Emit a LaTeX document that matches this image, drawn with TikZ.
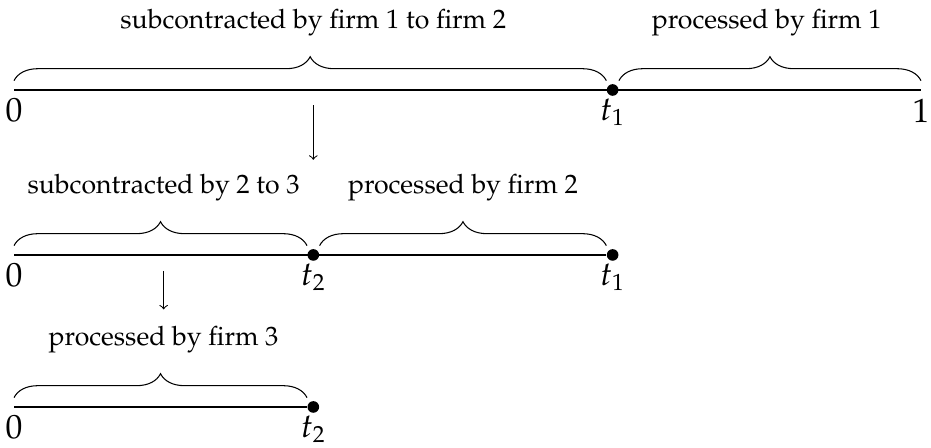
\documentclass[tikz,border=0pt]{standalone}
\usepackage[T1]{fontenc}
\usepackage{mathpazo}
\usetikzlibrary{decorations.pathreplacing}

\tikzset{
  seg/.style={line width=.9pt},
  dot/.style={circle,fill=black,inner sep=0pt,minimum size=1.75mm},
  brc/.style={decorate,decoration={brace,amplitude=.36cm,raise=.14cm},line width=.45pt},
  lbl/.style={anchor=base,font=\fontsize{11.4}{13}\selectfont},
  tick/.style={below,inner sep=3.5pt,font=\Large}
}

\begin{document}
\begin{tikzpicture}[x=13.64cm,y=1cm]
\path[use as bounding box] (-0.01544,-5.384) rectangle (1.01103,1.353);
% first line: firm 1
\coordinate (a0) at (0,0);
\node[dot] (a1) at (0.66,0) {};
\coordinate (a2) at (1,0);
\draw[seg] (a0) -- (a2);
\node[tick] at (a0) {$0$};
\node[tick] at (a1) {$t_1$};
\node[tick] at (a2) {$1$};
\draw[brc] (a0) -- (a1);
\draw[brc] (a1) -- (a2);
\node[lbl] (sub1) at (0.33,0.93) {subcontracted by firm 1 to firm 2};
\node[lbl] (proc1) at (0.83,0.93) {processed by firm 1};

% second line: firm 2
\coordinate (b0) at (0,-2.481);
\node[dot] (b1) at (0.33,-2.481) {};
\node[dot] (b2) at (0.66,-2.481) {};
\draw[seg] (b0) -- (b2);
\node[tick] at (b0) {$0$};
\node[tick] at (b1) {$t_2$};
\node[tick] at (b2) {$t_1$};
\draw[brc] (b0) -- (b1);
\draw[brc] (b1) -- (b2);
\node[lbl] (sub2) at (0.165,-1.55) {subcontracted by 2 to 3};
\node[lbl] (proc2) at (0.495,-1.55) {processed by firm 2};

% third line: firm 3
\coordinate (c0) at (0,-4.767);
\node[dot] (c1) at (0.33,-4.767) {};
\draw[seg] (c0) -- (c1);
\node[tick] at (c0) {$0$};
\node[tick] at (c1) {$t_2$};
\draw[brc] (c0) -- (c1);
\node[lbl] (proc3) at (0.165,-3.84) {processed by firm 3};

% passing down the work
\coordinate (d1) at (0.33,-0.23);
\coordinate (e1) at (0.33,-1.05);
\draw[->,line width=.45pt] (d1) -- (e1);
\coordinate (d2) at (0.165,-2.72);
\coordinate (e2) at (0.165,-3.3);
\draw[->,line width=.45pt] (d2) -- (e2);
\end{tikzpicture}
\end{document}
